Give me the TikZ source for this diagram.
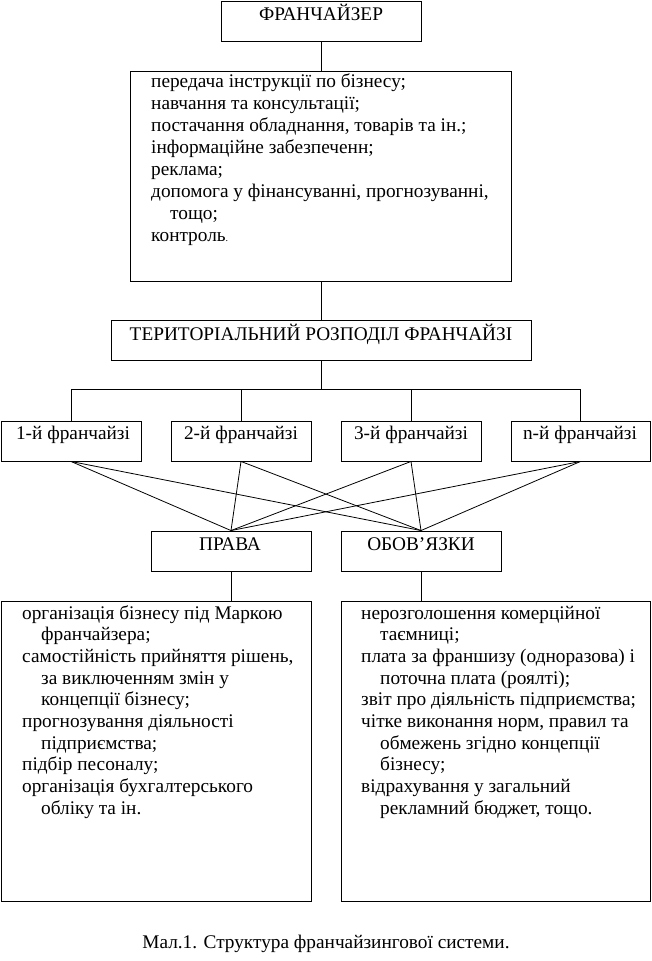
\documentclass[tikz,border=0pt]{standalone}
\usepackage{fontspec}
\setmainfont{Liberation Serif}
\newcommand\Ln[1]{\hbox{#1}}
\newcommand\Lh[1]{\hbox{\hspace*{19pt}#1}}
\begin{document}
\begin{tikzpicture}[x=1pt,y=-1pt,
  box/.style={draw,line width=0.9pt,inner sep=0pt},
  lbl/.style={inner sep=0pt,anchor=base,font=\fontsize{19.3}{21.7}\selectfont},
  lst/.style={inner sep=0pt,anchor=base west,font=\fontsize{19.3}{21.7}\selectfont},
  conn/.style={line width=0.8pt}]
\useasboundingbox (0,0) rectangle (651,961);
% boxes
\node[box,minimum width=200pt,minimum height=40pt] (fr) at (321,21) {};
\node[box,minimum width=381pt,minimum height=210pt] (info) at (320.5,176) {};
\node[box,minimum width=420pt,minimum height=40pt] (terr) at (321,340) {};
\node[box,minimum width=140pt,minimum height=40pt] (f1) at (71,441) {};
\node[box,minimum width=140pt,minimum height=40pt] (f2) at (241,441) {};
\node[box,minimum width=140pt,minimum height=40pt] (f3) at (411,441) {};
\node[box,minimum width=139pt,minimum height=40pt] (f4) at (580.5,441) {};
\node[box,minimum width=160pt,minimum height=40pt] (prava) at (231,551) {};
\node[box,minimum width=160pt,minimum height=40pt] (obov) at (421,551) {};
\node[box,minimum width=310pt,minimum height=300pt] (lbox) at (156,751) {};
\node[box,minimum width=309pt,minimum height=300pt] (rbox) at (495.5,751) {};
% labels
\node[lbl] (frt) at (321,20) {ФРАНЧАЙЗЕР};
\node[lbl] (terrt) at (321,340) {ТЕРИТОРІАЛЬНИЙ РОЗПОДІЛ ФРАНЧАЙЗІ};
\node[lbl] (f1t) at (73,439) {1-й франчайзі};
\node[lbl] (f2t) at (241,439) {2-й франчайзі};
\node[lbl] (f3t) at (411,439) {3-й франчайзі};
\node[lbl] (f4t) at (580,439) {n-й франчайзі};
\node[lbl] (pravat) at (230,550) {ПРАВА};
\node[lbl] (obovt) at (421,550) {ОБОВ’ЯЗКИ};
\node[lst,font=\fontsize{19.3}{22.1}\selectfont] (infot) at (151,87) {\vtop{%
  \Ln{передача інструкції по бізнесу;}
  \Ln{навчання та консультації;}
  \Ln{постачання обладнання, товарів та ін.;}
  \Ln{інформаційне забезпеченн;}
  \Ln{реклама;}
  \Ln{допомога у фінансуванні, прогнозуванні,}
  \Lh{тощо;}
  \Ln{контроль{\fontsize{10}{10}\selectfont.}}}};
\node[lst] (lboxt) at (22,619) {\vtop{%
  \Ln{організація бізнесу під Маркою}
  \Lh{франчайзера;}
  \Ln{самостійність прийняття рішень,}
  \Lh{за виключенням змін у}
  \Lh{концепції бізнесу;}
  \Ln{прогнозування діяльності}
  \Lh{підприємства;}
  \Ln{підбір песоналу;}
  \Ln{організація бухгалтерського}
  \Lh{обліку та ін.}}};
\node[lst] (rboxt) at (361,619) {\vtop{%
  \Ln{нерозголошення комерційної}
  \Lh{таємниці;}
  \Ln{плата за франшизу (одноразова) і}
  \Lh{поточна плата (роялті);}
  \Ln{звіт про діяльність підприємства;}
  \Ln{чітке виконання норм, правил та}
  \Lh{обмежень згідно концепції}
  \Lh{бізнесу;}
  \Ln{відрахування у загальний}
  \Lh{рекламний бюджет, тощо.}}};
\node[lbl] (cap) at (326,948) {Мал.1. Структура франчайзингової системи.};
% connectors
\coordinate (bus) at (321,389);
\draw[conn] (fr.south) -- (fr.south |- info.north);
\draw[conn] (fr.south |- info.south) -- (terr.north);
\draw[conn] (terr.south) -- (bus);
\draw[conn] (bus) -| (f1.north);
\draw[conn] (bus) -| (f2.north);
\draw[conn] (bus) -| (f3.north);
\draw[conn] (bus) -| (f4.north);
\foreach \f in {f1,f2,f3,f4}{
  \draw[conn] (\f.south) -- (prava.north);
  \draw[conn] (\f.south) -- (obov.north);
}
\draw[conn] (prava.south) -- (prava.south |- lbox.north);
\draw[conn] (obov.south) -- (obov.south |- rbox.north);
\end{tikzpicture}
\end{document}
